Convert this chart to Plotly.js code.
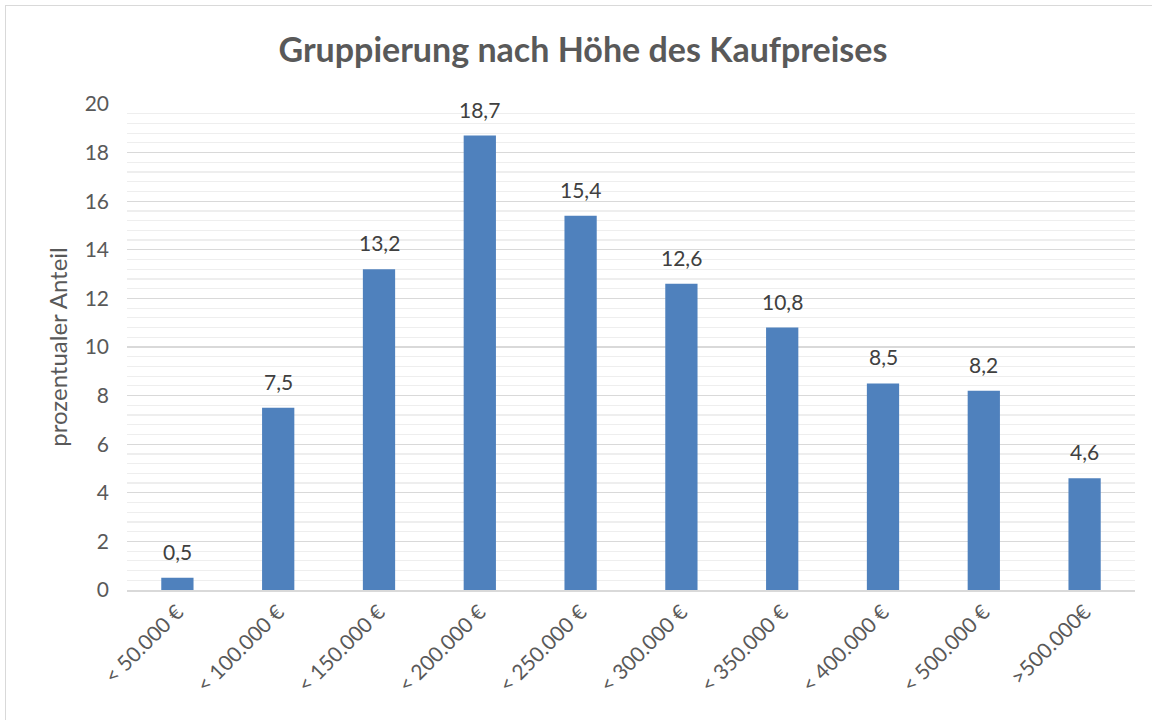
<!DOCTYPE html>
<html>
<head>
<meta charset="utf-8">
<script src="https://cdn.plot.ly/plotly-3.0.1.min.js"></script>
<style>
html,body{margin:0;padding:0;background:#fff;overflow:hidden;}
#frame{position:absolute;left:5px;top:5px;width:1170px;height:740px;border:1.5px solid #d9d9d9;box-sizing:border-box;}
#chart{position:absolute;left:0;top:0;width:1152px;height:720px;}
</style>
</head>
<body>
<div id="frame"></div>
<div id="chart"></div>
<script>
const categories = ["< 50.000 €", "< 100.000 €", "< 150.000 €", "< 200.000 €", "< 250.000 €", "< 300.000 €", "< 350.000 €", "< 400.000 €", "< 500.000 €", ">500.000€"];
const shares = [0.5, 7.5, 13.2, 18.7, 15.4, 12.6, 10.8, 8.5, 8.2, 4.6];
const titleText = "Gruppierung nach Höhe des Kaufpreises";
const yTitle = "prozentualer Anteil";
const FONT = "Lato, 'Open Sans', sans-serif";

const labels = categories.map((c, i) => ({
  x: c, y: shares[i], xref: "x", yref: "y",
  text: shares[i].toFixed(1).replace(".", ","),
  showarrow: false, yanchor: "bottom", yshift: 12,
  font: {family: FONT, size: 21, color: "#404040"}
}));

Plotly.newPlot("chart", [{
  type: "bar",
  x: categories,
  y: shares,
  marker: {color: "#4f81bd"},
  hoverinfo: "skip"
}], {
  width: 1152, height: 720,
  paper_bgcolor: "rgba(0,0,0,0)",
  plot_bgcolor: "rgba(0,0,0,0)",
  separators: ",.",
  margin: {l: 127, r: 17, t: 104, b: 130},
  bargap: 0.68,
  showlegend: false,
  annotations: labels,
  title: {text: titleText, font: {family: FONT, size: 34, color: "#595959", weight: "bold"}, x: 0.506, xanchor: "center", y: 0.931, yanchor: "middle"},
  xaxis: {
    type: "category",
    tickangle: -45,
    tickfont: {family: FONT, size: 21, color: "#595959"},
    showgrid: false, showline: true, linecolor: "#d9d9d9", linewidth: 1.5,
    ticks: ""
  },
  yaxis: {
    range: [0, 20],
    dtick: 2,
    tickfont: {family: FONT, size: 21, color: "#595959"},
    title: {text: yTitle, font: {family: FONT, size: 24, color: "#595959"}, standoff: 10},
    showgrid: true, gridcolor: "#d9d9d9", gridwidth: 1.2,
    minor: {dtick: 0.4, showgrid: true, gridcolor: "#eeeeee", gridwidth: 1.2},
    zeroline: false, showline: false,
    ticks: "", ticklabelstandoff: 17
  }
}, {displayModeBar: false, staticPlot: true});
</script>
</body>
</html>
